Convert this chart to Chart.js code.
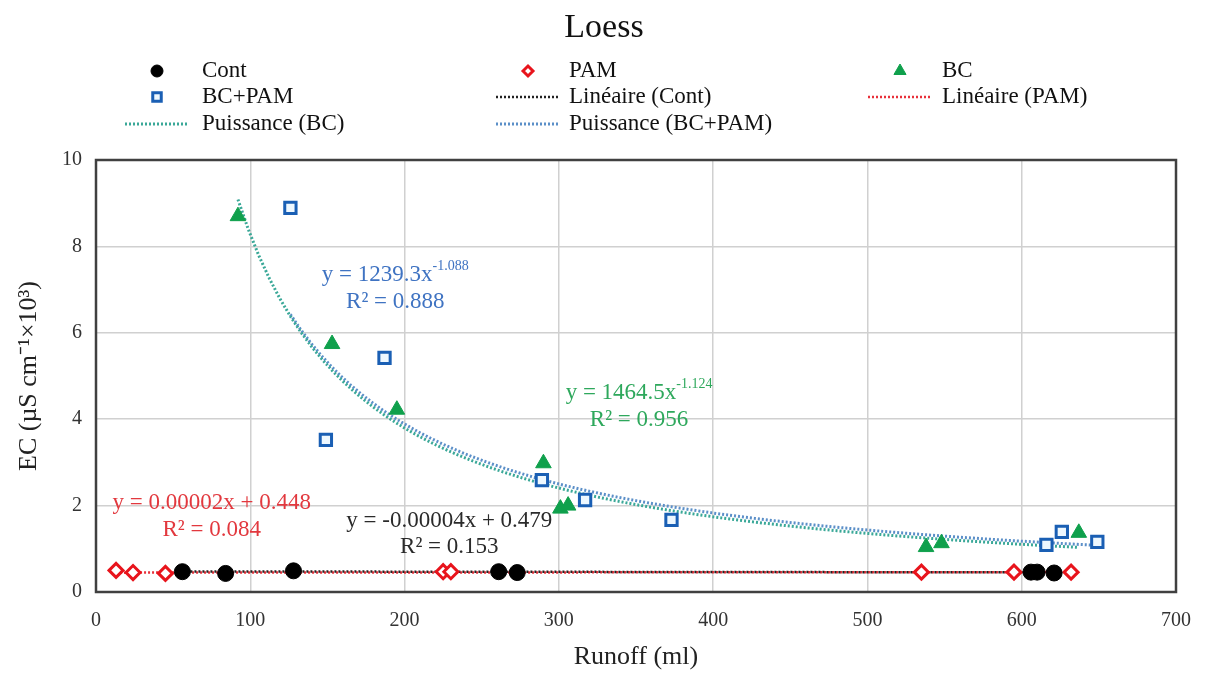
<!DOCTYPE html>
<html>
<head>
<meta charset="utf-8">
<script src="https://cdn.jsdelivr.net/npm/chart.js@4.4.1/dist/chart.umd.min.js"></script>
<style>
  html, body { margin: 0; padding: 0; background: #fff; }
</style>
</head>
<body>
<canvas id="myChart" width="1208" height="675"></canvas>
<script>
// data
const contX = [56, 84, 128, 261, 273, 606, 610, 621];
const contY = [0.47, 0.43, 0.49, 0.47, 0.45, 0.46, 0.46, 0.44];
const pamX = [13, 24, 45, 225, 230, 535, 595, 632];
const pamY = [0.50, 0.45, 0.43, 0.47, 0.47, 0.46, 0.46, 0.46];
const bcX = [92, 153, 195, 290, 301, 306, 538, 548, 637];
const bcY = [8.70, 5.74, 4.22, 2.98, 1.93, 2.00, 1.04, 1.13, 1.37];
const bcpamX = [126, 149, 187, 289, 317, 373, 616, 626, 649];
const bcpamY = [8.89, 3.52, 5.42, 2.59, 2.13, 1.67, 1.09, 1.39, 1.16];

// trendline equations printed on the chart
const contFit = { slope: -0.00004, intercept: 0.479, r2: '0.153' };
const pamFit = { slope: 0.00002, intercept: 0.448, r2: '0.084' };
const bcFit = { coef: 1464.5, exp: -1.124, r2: '0.956' };
const bcpamFit = { coef: 1239.3, exp: -1.088, r2: '0.888' };

const xTicks = [0, 100, 200, 300, 400, 500, 600, 700];
const yTicks = [0, 2, 4, 6, 8, 10];

const serif = "'Liberation Serif', 'Times New Roman', serif";

function toPoints(xs, ys) {
    return xs.map((x, i) => ({ x: x, y: ys[i] }));
}
function linearLine(xs, fit) {
    const lo = Math.min(...xs), hi = Math.max(...xs);
    return [lo, hi].map(x => ({ x: x, y: fit.slope * x + fit.intercept }));
}
function powerCurve(xs, fit) {
    const lo = Math.min(...xs), hi = Math.max(...xs);
    const pts = [];
    for (let i = 0; i <= 80; i++) {
        const x = lo + (hi - lo) * i / 80;
        pts.push({ x: x, y: fit.coef * Math.pow(x, fit.exp) });
    }
    return pts;
}

const datasets = [
    {
        label: 'Cont', data: toPoints(contX, contY), showLine: false,
        pointStyle: 'circle', pointRadius: 8, backgroundColor: '#000', borderColor: '#000', borderWidth: 1, order: 3
    },
    {
        label: 'PAM', data: toPoints(pamX, pamY), showLine: false,
        pointStyle: 'rectRot', pointRadius: 7, backgroundColor: '#fff', borderColor: '#e8141c', borderWidth: 3, order: 4
    },
    {
        label: 'BC', data: toPoints(bcX, bcY), showLine: false,
        pointStyle: 'triangle', pointRadius: 9, backgroundColor: '#0fa04c', borderColor: '#0fa04c', borderWidth: 1, order: 2
    },
    {
        label: 'BC+PAM', data: toPoints(bcpamX, bcpamY), showLine: false,
        pointStyle: 'rect', pointRadius: 8, backgroundColor: '#eef8ff', borderColor: '#1a5fb4', borderWidth: 3, order: 1
    },
    {
        label: 'Linéaire (Cont)', data: linearLine(contX, contFit), showLine: true, pointRadius: 0,
        borderColor: '#222', borderWidth: 2.5, borderDash: [2, 2], order: 5
    },
    {
        label: 'Linéaire (PAM)', data: linearLine(pamX, pamFit), showLine: true, pointRadius: 0,
        borderColor: '#e8303a', borderWidth: 2.5, borderDash: [2, 2], order: 6
    },
    {
        label: 'Puissance (BC)', data: powerCurve(bcX, bcFit), showLine: true, pointRadius: 0,
        borderColor: '#3aa898', borderWidth: 3, borderDash: [2, 2], order: 7
    },
    {
        label: 'Puissance (BC+PAM)', data: powerCurve(bcpamX, bcpamFit), showLine: true, pointRadius: 0,
        borderColor: '#5b8fc8', borderWidth: 3, borderDash: [2, 2], order: 8
    }
];

// legend layout: 3 columns x 3 rows
const legendCols = [{ mark: 157, text: 202 }, { mark: 528, text: 569 }, { mark: 900, text: 942 }];
const legendRows = [71, 97, 124];

// equation labels, anchored in data coordinates
const eqLabels = [
    { color: '#3f73c2', x: 194, lines: [{ y: 7.34, t: 'y = 1239.3x', sup: '-1.088' }, { y: 6.71, t: 'R² = ' + bcpamFit.r2 }] },
    { color: '#2ea85c', x: 352, lines: [{ y: 4.61, t: 'y = 1464.5x', sup: '-1.124' }, { y: 3.98, t: 'R² = ' + bcFit.r2 }] },
    { color: '#e2383e', x: 75, lines: [{ y: 2.06, t: 'y = 0.00002x + 0.448' }, { y: 1.44, t: 'R² = ' + pamFit.r2 }] },
    { color: '#2a2a2a', x: 229, lines: [{ y: 1.64, t: 'y = -0.00004x + 0.479' }, { y: 1.04, t: 'R² = ' + contFit.r2 }] }
];

const decor = {
    id: 'decor',
    beforeDatasetsDraw(chart) {
        const { ctx, chartArea: a } = chart;
        ctx.save();
        ctx.strokeStyle = '#404040';
        ctx.lineWidth = 2.5;
        ctx.strokeRect(a.left, a.top, a.right - a.left, a.bottom - a.top);
        ctx.restore();
    },
    afterDraw(chart) {
        const ctx = chart.ctx;
        const xs = chart.scales.x, ys = chart.scales.y;
        ctx.save();
        // title
        ctx.fillStyle = '#111';
        ctx.font = '34px ' + serif;
        ctx.textAlign = 'center';
        ctx.textBaseline = 'middle';
        ctx.fillText('Loess', 604, 28);

        // legend
        ctx.font = '23px ' + serif;
        ctx.textAlign = 'left';
        chart.data.datasets.forEach((ds, i) => {
            const col = legendCols[i % 3];
            const y = legendRows[Math.floor(i / 3)];
            if (ds.showLine) {
                ctx.save();
                ctx.strokeStyle = ds.borderColor;
                ctx.lineWidth = ds.borderWidth;
                ctx.setLineDash(ds.borderDash);
                ctx.beginPath();
                ctx.moveTo(col.mark - 32, y);
                ctx.lineTo(col.mark + 32, y);
                ctx.stroke();
                ctx.restore();
            } else {
                ctx.save();
                ctx.fillStyle = ds.backgroundColor;
                ctx.strokeStyle = ds.borderColor;
                ctx.lineWidth = ds.borderWidth;
                Chart.helpers.drawPoint(ctx, {
                    pointStyle: ds.pointStyle, radius: ds.pointRadius - 2,
                    borderWidth: ds.borderWidth, rotation: 0
                }, col.mark, y);
                ctx.restore();
            }
            ctx.fillStyle = '#111';
            ctx.fillText(ds.label, col.text, y);
        });

        // equations
        eqLabels.forEach(lab => {
            const cx = xs.getPixelForValue(lab.x);
            lab.lines.forEach(ln => {
                const cy = ys.getPixelForValue(ln.y);
                ctx.font = '23px ' + serif;
                const w1 = ctx.measureText(ln.t).width;
                let w2 = 0;
                if (ln.sup) {
                    ctx.font = '14px ' + serif;
                    w2 = ctx.measureText(ln.sup).width;
                }
                const x0 = cx - (w1 + w2) / 2;
                ctx.fillStyle = lab.color;
                ctx.textAlign = 'left';
                ctx.textBaseline = 'middle';
                ctx.font = '23px ' + serif;
                ctx.fillText(ln.t, x0, cy);
                if (ln.sup) {
                    ctx.font = '14px ' + serif;
                    ctx.fillText(ln.sup, x0 + w1, cy - 9);
                }
            });
        });
        ctx.restore();
    }
};

const ctx = document.getElementById('myChart');
const myChart = new Chart(ctx, {
    type: 'scatter',
    data: { datasets: datasets },
    options: {
        responsive: false,
        animation: false,
        devicePixelRatio: 1,
        layout: { padding: { top: 160, right: 31, left: 0, bottom: 0 } },
        plugins: { legend: { display: false }, title: { display: false }, tooltip: { enabled: false } },
        scales: {
            x: {
                type: 'linear', min: 0, max: 700,
                afterBuildTicks: s => { s.ticks = xTicks.map(v => ({ value: v })); },
                afterFit: s => { s.height = 83; },
                grid: { color: '#d0d0d0', lineWidth: 1.5, drawTicks: false },
                border: { display: false },
                ticks: { padding: 17, color: '#333', font: { family: serif, size: 20 } },
                title: { display: true, text: 'Runoff (ml)', color: '#222', font: { family: serif, size: 26 }, padding: { top: 0, bottom: 2 } }
            },
            y: {
                type: 'linear', min: 0, max: 10,
                afterBuildTicks: s => { s.ticks = yTicks.map(v => ({ value: v })); },
                afterFit: s => { s.width = 96; },
                grid: { color: '#d0d0d0', lineWidth: 1.5, drawTicks: false },
                border: { display: false },
                ticks: { padding: 14, color: '#333', font: { family: serif, size: 20 } },
                title: { display: true, text: 'EC (µS cm⁻¹×10³)', color: '#222', font: { family: serif, size: 26 }, padding: { top: 14, bottom: 0 } }
            }
        }
    },
    plugins: [decor]
});
</script>
</body>
</html>
